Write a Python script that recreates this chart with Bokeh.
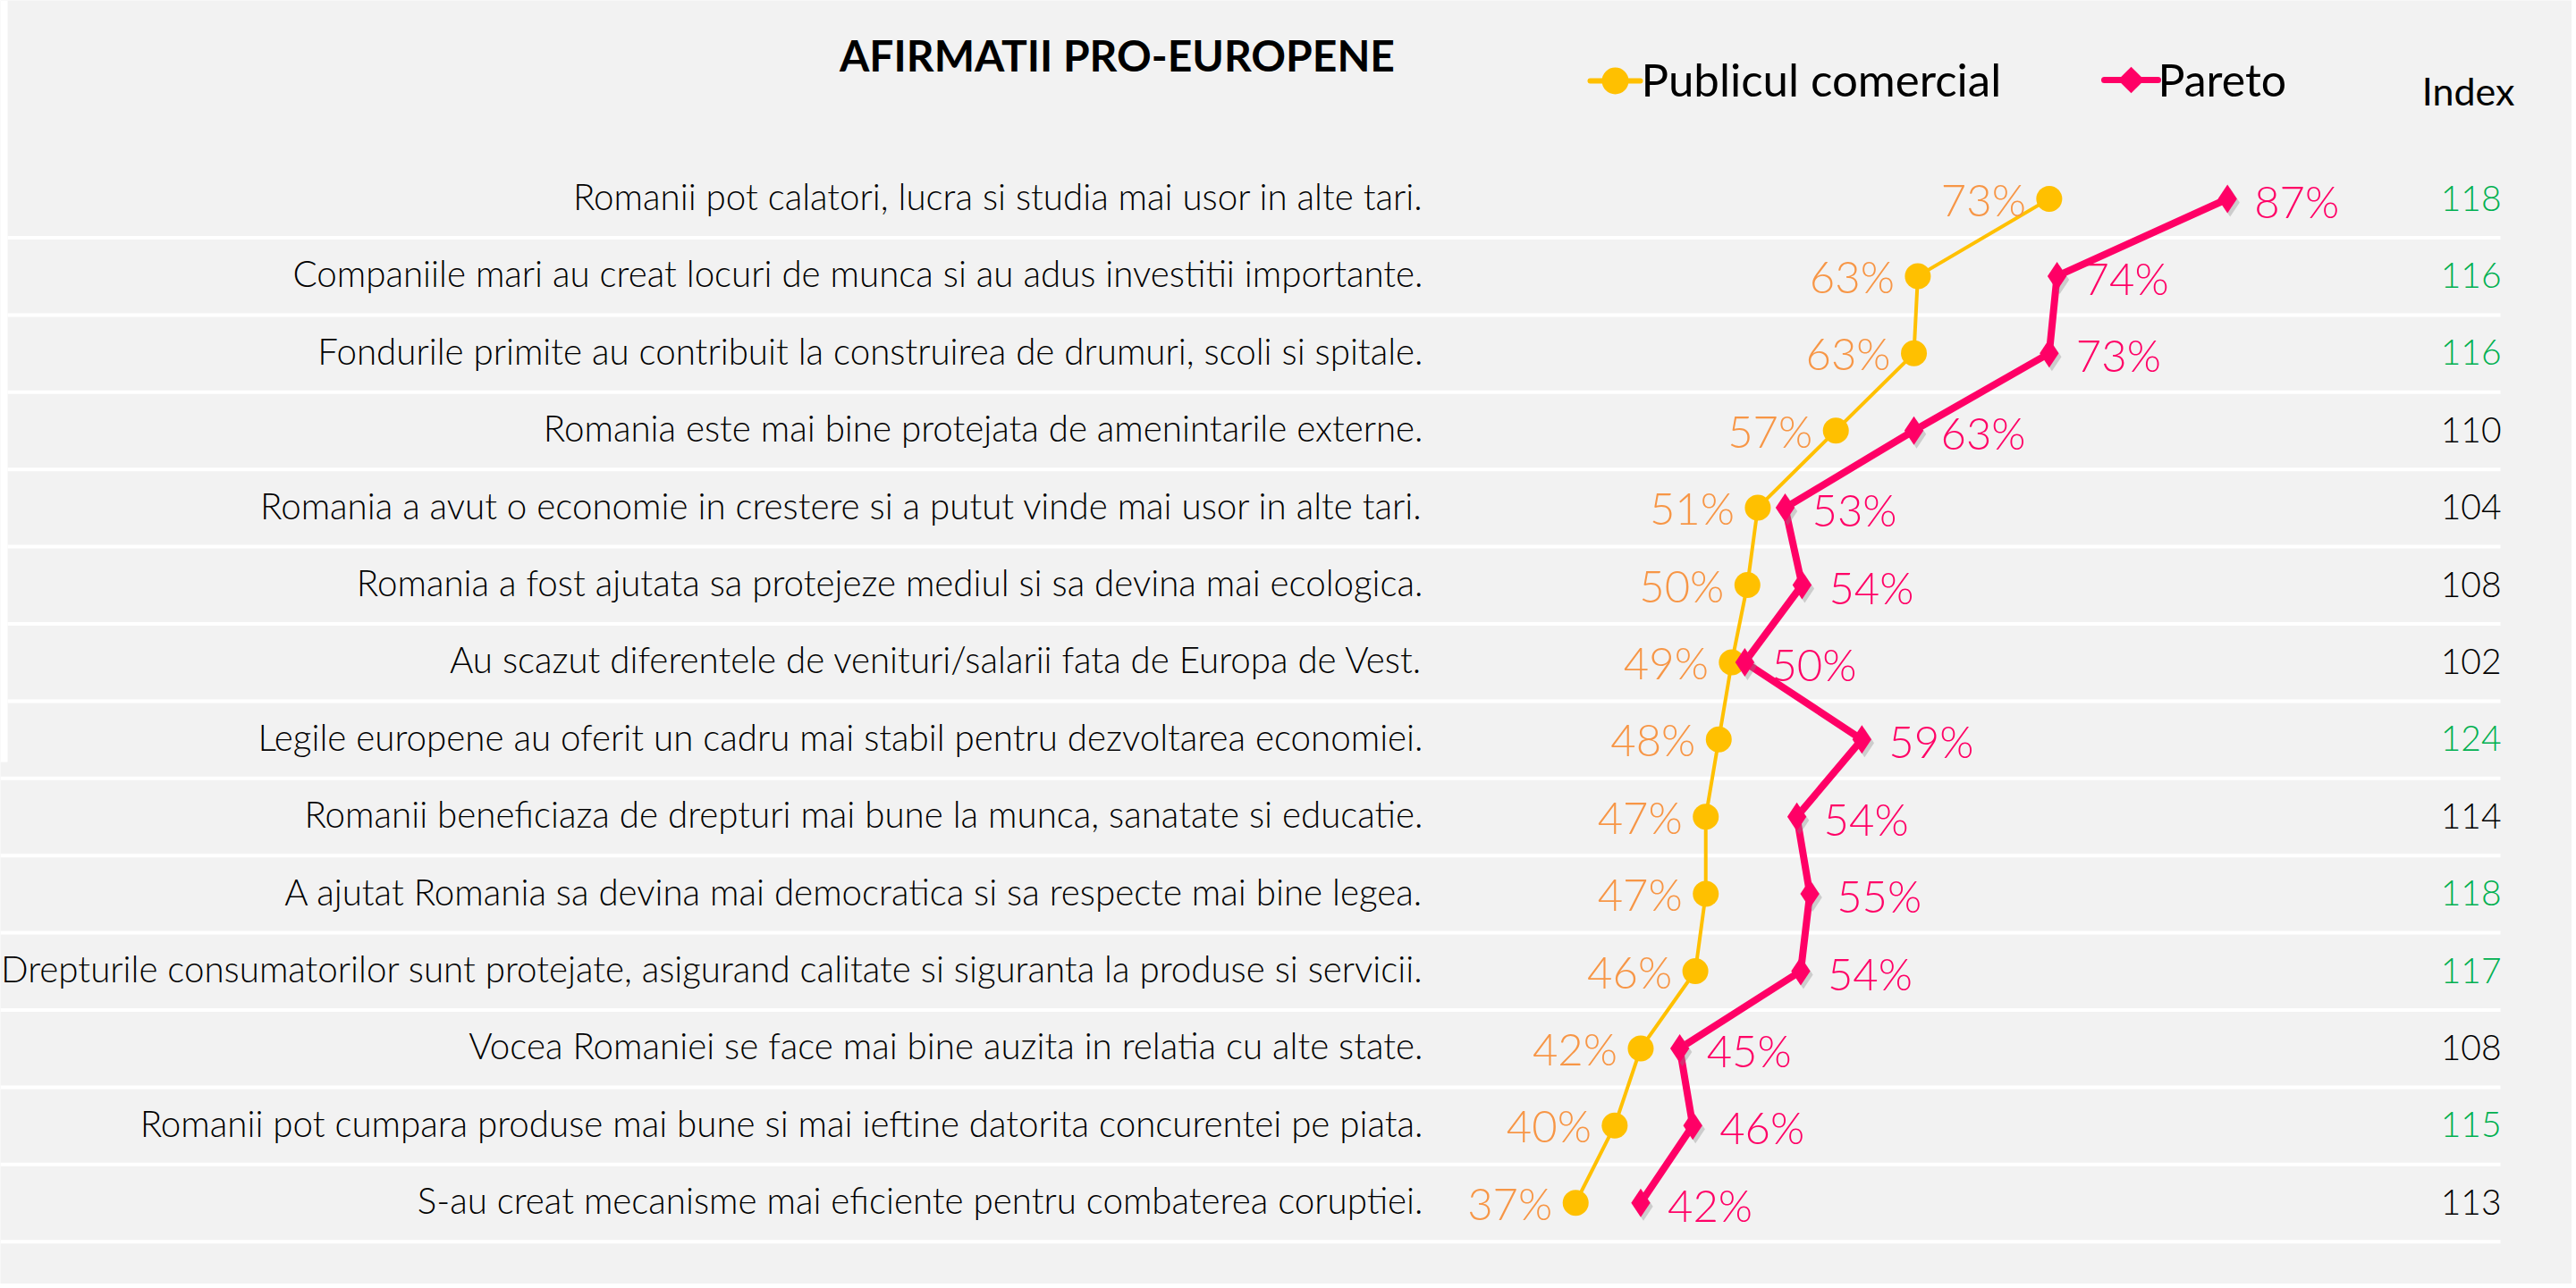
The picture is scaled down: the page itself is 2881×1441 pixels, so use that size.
from bokeh.plotting import figure
from bokeh.models import Range1d, ColumnDataSource, Label
from bokeh.core.properties import value
from bokeh.embed import file_html
from bokeh.resources import INLINE

# ---------------- data ----------------
categories = [
    "Romanii pot calatori, lucra si studia mai usor in alte tari.",
    "Companiile mari au creat locuri de munca si au adus investitii importante.",
    "Fondurile primite au contribuit la construirea de drumuri, scoli si spitale.",
    "Romania este mai bine protejata de amenintarile externe.",
    "Romania a avut o economie in crestere si a putut vinde mai usor in alte tari.",
    "Romania a fost ajutata sa protejeze mediul si sa devina mai ecologica.",
    "Au scazut diferentele de venituri/salarii fata de Europa de Vest.",
    "Legile europene au oferit un cadru mai stabil pentru dezvoltarea economiei.",
    "Romanii beneficiaza de drepturi mai bune la munca, sanatate si educatie.",
    "A ajutat Romania sa devina mai democratica si sa respecte mai bine legea.",
    "Drepturile consumatorilor sunt protejate, asigurand calitate si siguranta la produse si servicii.",
    "Vocea Romaniei se face mai bine auzita in relatia cu alte state.",
    "Romanii pot cumpara produse mai bune si mai ieftine datorita concurentei pe piata.",
    "S-au creat mecanisme mai eficiente pentru combaterea coruptiei.",
]
publicul = [73.0, 62.9, 62.6, 56.6, 50.6, 49.8, 48.6, 47.6, 46.6, 46.6, 45.8, 41.6, 39.6, 36.6]
pareto = [86.7, 73.6, 73.0, 62.6, 52.7, 54.0, 49.6, 58.6, 53.6, 54.6, 53.9, 44.6, 45.6, 41.6]
index_vals = [118, 116, 116, 110, 104, 108, 102, 124, 114, 118, 117, 108, 115, 113]
series_names = ["Publicul comercial", "Pareto"]
title_text = "AFIRMATII PRO-EUROPENE"
index_title = "Index"

# ---------------- layout / style ----------------
W, H = 2876, 1436
BG = "#F2F2F2"
YELLOW = "#FFC000"
ORANGE = "#F79646"
PINK = "#FF0066"
GREEN = "#00B050"
FONT = "Lato"
LIGHT = "Lato Light"

K = 14.55          # px per percentage point
X0 = 1229.2        # page x of 0%
ROW = 86.4         # px per row
Y0 = 222.0         # page y of first row centre

xs = -X0 / K
T = -Y0 / ROW
B = T + H / ROW


def px2x(px):
    return xs + px / K


def py2y(py):
    return T + py / ROW


rows = list(range(len(categories)))
p = figure(width=W, height=H, x_range=Range1d(xs, xs + W / K), y_range=Range1d(B, T),
           output_backend="svg", toolbar_location=None, min_border=0,
           x_axis_location=None, y_axis_location=None,
           background_fill_color=BG, border_fill_color=BG, outline_line_color=None)
p.grid.visible = False

# white strip at the left of the upper part
p.quad(left=px2x(0), right=px2x(8), top=py2y(0), bottom=py2y(852), fill_color="white",
       line_color=None)

# separators
sep_y = [r + 43.5 / ROW for r in rows]
sep_x0 = [px2x(8) if r < 7 else px2x(0) for r in rows]
p.segment(x0=sep_x0, x1=px2x(2796), y0=sep_y, y1=sep_y, line_color="white", line_width=4)

src = ColumnDataSource(dict(
    y=rows, cat=categories, pub=publicul, par=pareto,
    pub_lab=[f"{round(v)}%" for v in publicul],
    par_lab=[f"{round(v)}%" for v in pareto],
    idx=[str(v) for v in index_vals],
    idx_col=[GREEN if v >= 115 else "black" for v in index_vals],
    par_sh=[v + 3 / K for v in pareto],
    y_sh=[r + 4 / ROW for r in rows],
))

# category labels
p.text(x=px2x(1591), y="y", text="cat", source=src, text_align="right", text_baseline="middle",
       y_offset=-3, text_font=value(LIGHT), text_font_size="40.3px", text_color="black")

# publicul line
p.line("pub", "y", source=src, line_color=YELLOW, line_width=4)
p.scatter("pub", "y", source=src, marker="circle", size=29, fill_color=YELLOW, line_color=None)

# pareto line
p.line("par", "y", source=src, line_color=PINK, line_width=8)
p.scatter("par_sh", "y_sh", source=src, marker="diamond", size=32, fill_color="#888888",
          fill_alpha=0.35, line_color=None)
p.scatter("par", "y", source=src, marker="diamond", size=32, fill_color=PINK, line_color=None)

# data labels
p.text(x="pub", y="y", text="pub_lab", source=src, x_offset=-26, text_align="right",
       text_baseline="middle", text_font=value(LIGHT), text_font_size="49px", text_color=ORANGE)
p.text(x="par", y="y", text="par_lab", source=src, x_offset=30, y_offset=2, text_align="left",
       text_baseline="middle", text_font=value(LIGHT), text_font_size="49px", text_color=PINK)

# index column
p.text(x=px2x(2797), y="y", text="idx", source=src, text_align="right", text_baseline="middle",
       y_offset=-1, text_font=value(LIGHT), text_font_size="39px", text_color="idx_col")

# title, legend, index header
p.add_layout(Label(x=px2x(1249), y=py2y(61), text=title_text, text_align="center",
                   text_baseline="middle", text_font=FONT, text_font_style="bold",
                   text_font_size="48px", text_color="black"))

ly = py2y(90)
p.segment(x0=px2x(1778), x1=px2x(1834), y0=ly, y1=ly, line_color=YELLOW, line_width=6,
          line_cap="round")
p.scatter(x=[px2x(1806)], y=[ly], marker="circle", size=30, fill_color=YELLOW, line_color=None)
p.add_layout(Label(x=px2x(1835), y=py2y(88), text=series_names[0], text_align="left",
                   text_baseline="middle", text_font=FONT, text_font_size="51px",
                   text_color="black"))

ly2 = py2y(89)
p.segment(x0=px2x(2353), x1=px2x(2413), y0=ly2, y1=ly2, line_color=PINK, line_width=7,
          line_cap="round")
p.scatter(x=[px2x(2383)], y=[ly2], marker="square", angle=0.785398, size=21, fill_color=PINK,
          line_color=None)
p.add_layout(Label(x=px2x(2413), y=py2y(88), text=series_names[1], text_align="left",
                   text_baseline="middle", text_font=FONT, text_font_size="50px",
                   text_color="black"))

p.add_layout(Label(x=px2x(2760), y=py2y(101), text=index_title, text_align="center",
                   text_baseline="middle", text_font=FONT, text_font_size="43px",
                   text_color="black"))

open("out.html", "w").write(file_html(p, INLINE))
